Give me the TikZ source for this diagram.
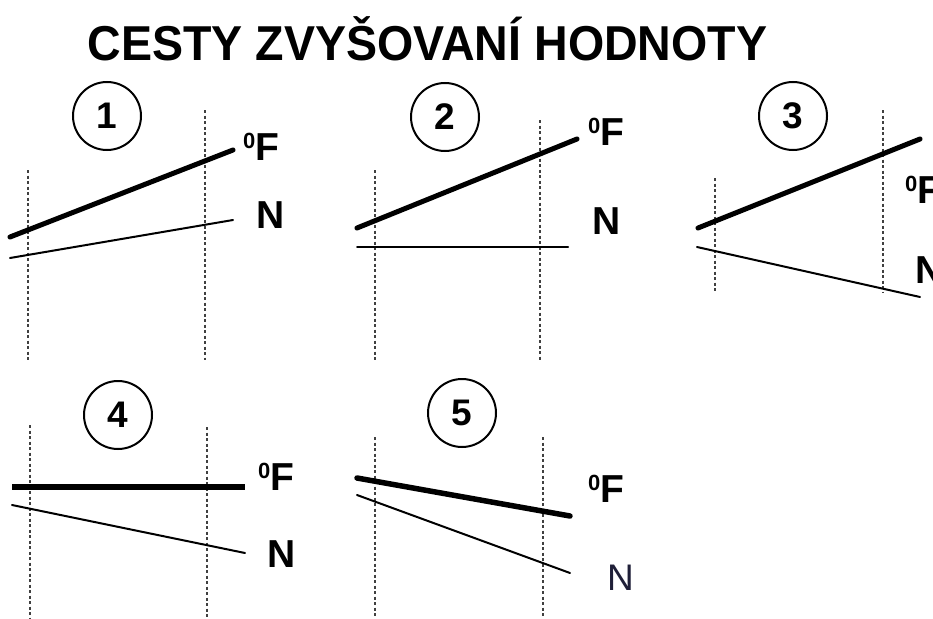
\documentclass[tikz,border=0pt]{standalone}
\usepackage{fontspec}
\setmainfont{Liberation Sans}
\definecolor{nblue}{rgb}{0.12,0.12,0.22}
\newcommand{\degF}{{\fontsize{22}{22}\selectfont\raisebox{12pt}{0}}F}
\begin{document}
\begin{tikzpicture}[x=1pt,y=-1pt,
  guide/.style={line width=1.3pt, dash pattern=on 3pt off 2.5pt, black!75},
  fline/.style={line width=5pt, line cap=round},
  nline/.style={line width=2pt, line cap=round},
  numcirc/.style={draw, circle, line width=2pt, minimum size=68pt, inner sep=0pt,
    font=\fontsize{37}{37}\selectfont\bfseries},
  lbl/.style={inner sep=0pt, anchor=base west, font=\fontsize{39}{39}\selectfont\bfseries},
  title/.style={inner sep=0pt, anchor=base, font=\fontsize{49}{49}\selectfont\bfseries}]
\clip (0,0) rectangle (933,618);
\fill[white] (0,0) rectangle (933,618);

\node[title] (ttl) at (427.5,60) {\scalebox{0.95}[1]{CESTY ZVYŠOVANÍ HODNOTY}};

% ---------- panel 1
\node[numcirc] (c1) at (107,116) {1};
\coordinate (p1lt) at (28,170);  \coordinate (p1lb) at (28,360);
\coordinate (p1rt) at (205,110); \coordinate (p1rb) at (205,360);
\draw[guide] (p1lt) -- (p1lb);
\draw[guide] (p1rt) -- (p1rb);
\coordinate (p1fa) at (10,237); \coordinate (p1fb) at (233,150);
\coordinate (p1na) at (10,258); \coordinate (p1nb) at (233,220);
\draw[fline] (p1fa) -- (p1fb);
\draw[nline] (p1na) -- (p1nb);
\node[lbl] (f1) at (243,160) {\degF};
\node[lbl] (n1) at (256,228) {N};

% ---------- panel 2
\node[numcirc] (c2) at (445,117) {2};
\coordinate (p2lt) at (375,170); \coordinate (p2lb) at (375,360);
\coordinate (p2rt) at (540,120); \coordinate (p2rb) at (540,360);
\draw[guide] (p2lt) -- (p2lb);
\draw[guide] (p2rt) -- (p2rb);
\coordinate (p2fa) at (357,228); \coordinate (p2fb) at (577,139);
\coordinate (p2na) at (357,247); \coordinate (p2nb) at (568,247);
\draw[fline] (p2fa) -- (p2fb);
\draw[nline] (p2na) -- (p2nb);
\node[lbl] (f2) at (588,145) {\degF};
\node[lbl] (n2) at (592,234) {N};

% ---------- panel 3
\node[numcirc] (c3) at (793,116) {3};
\coordinate (p3lt) at (715,178); \coordinate (p3lb) at (715,293);
\coordinate (p3rt) at (883,110); \coordinate (p3rb) at (883,293);
\draw[guide] (p3lt) -- (p3lb);
\draw[guide] (p3rt) -- (p3rb);
\coordinate (p3fa) at (698,228); \coordinate (p3fb) at (920,139);
\coordinate (p3na) at (697,247); \coordinate (p3nb) at (920,297);
\draw[fline] (p3fa) -- (p3fb);
\draw[nline] (p3na) -- (p3nb);
\node[lbl] (f3) at (905,203) {\degF};
\node[lbl] (n3) at (915,283) {N};

% ---------- panel 4
\node[numcirc] (c4) at (118,415) {4};
\coordinate (p4lt) at (30,425);  \coordinate (p4lb) at (30,618);
\coordinate (p4rt) at (207,427); \coordinate (p4rb) at (207,618);
\draw[guide] (p4lt) -- (p4lb);
\draw[guide] (p4rt) -- (p4rb);
\coordinate (p4fa) at (12,487); \coordinate (p4fb) at (245,487);
\coordinate (p4na) at (12,505); \coordinate (p4nb) at (245,553);
\draw[fline, line width=6.5pt, line cap=butt] (p4fa) -- (p4fb);
\draw[nline] (p4na) -- (p4nb);
\node[lbl] (f4) at (258,490) {\degF};
\node[lbl] (n4) at (267,567) {N};

% ---------- panel 5
\node[numcirc] (c5) at (462,413) {5};
\coordinate (p5lt) at (375,437); \coordinate (p5lb) at (375,618);
\coordinate (p5rt) at (543,437); \coordinate (p5rb) at (543,618);
\draw[guide] (p5lt) -- (p5lb);
\draw[guide] (p5rt) -- (p5rb);
\coordinate (p5fa) at (357,478); \coordinate (p5fb) at (570,516);
\coordinate (p5na) at (357,495); \coordinate (p5nb) at (570,573);
\draw[fline, line width=5.5pt] (p5fa) -- (p5fb);
\draw[nline] (p5na) -- (p5nb);
\node[lbl] (f5) at (588,502) {\degF};
\node[lbl, font=\fontsize{37}{37}\selectfont, text=nblue] (n5) at (607,590) {N};
\end{tikzpicture}
\end{document}
